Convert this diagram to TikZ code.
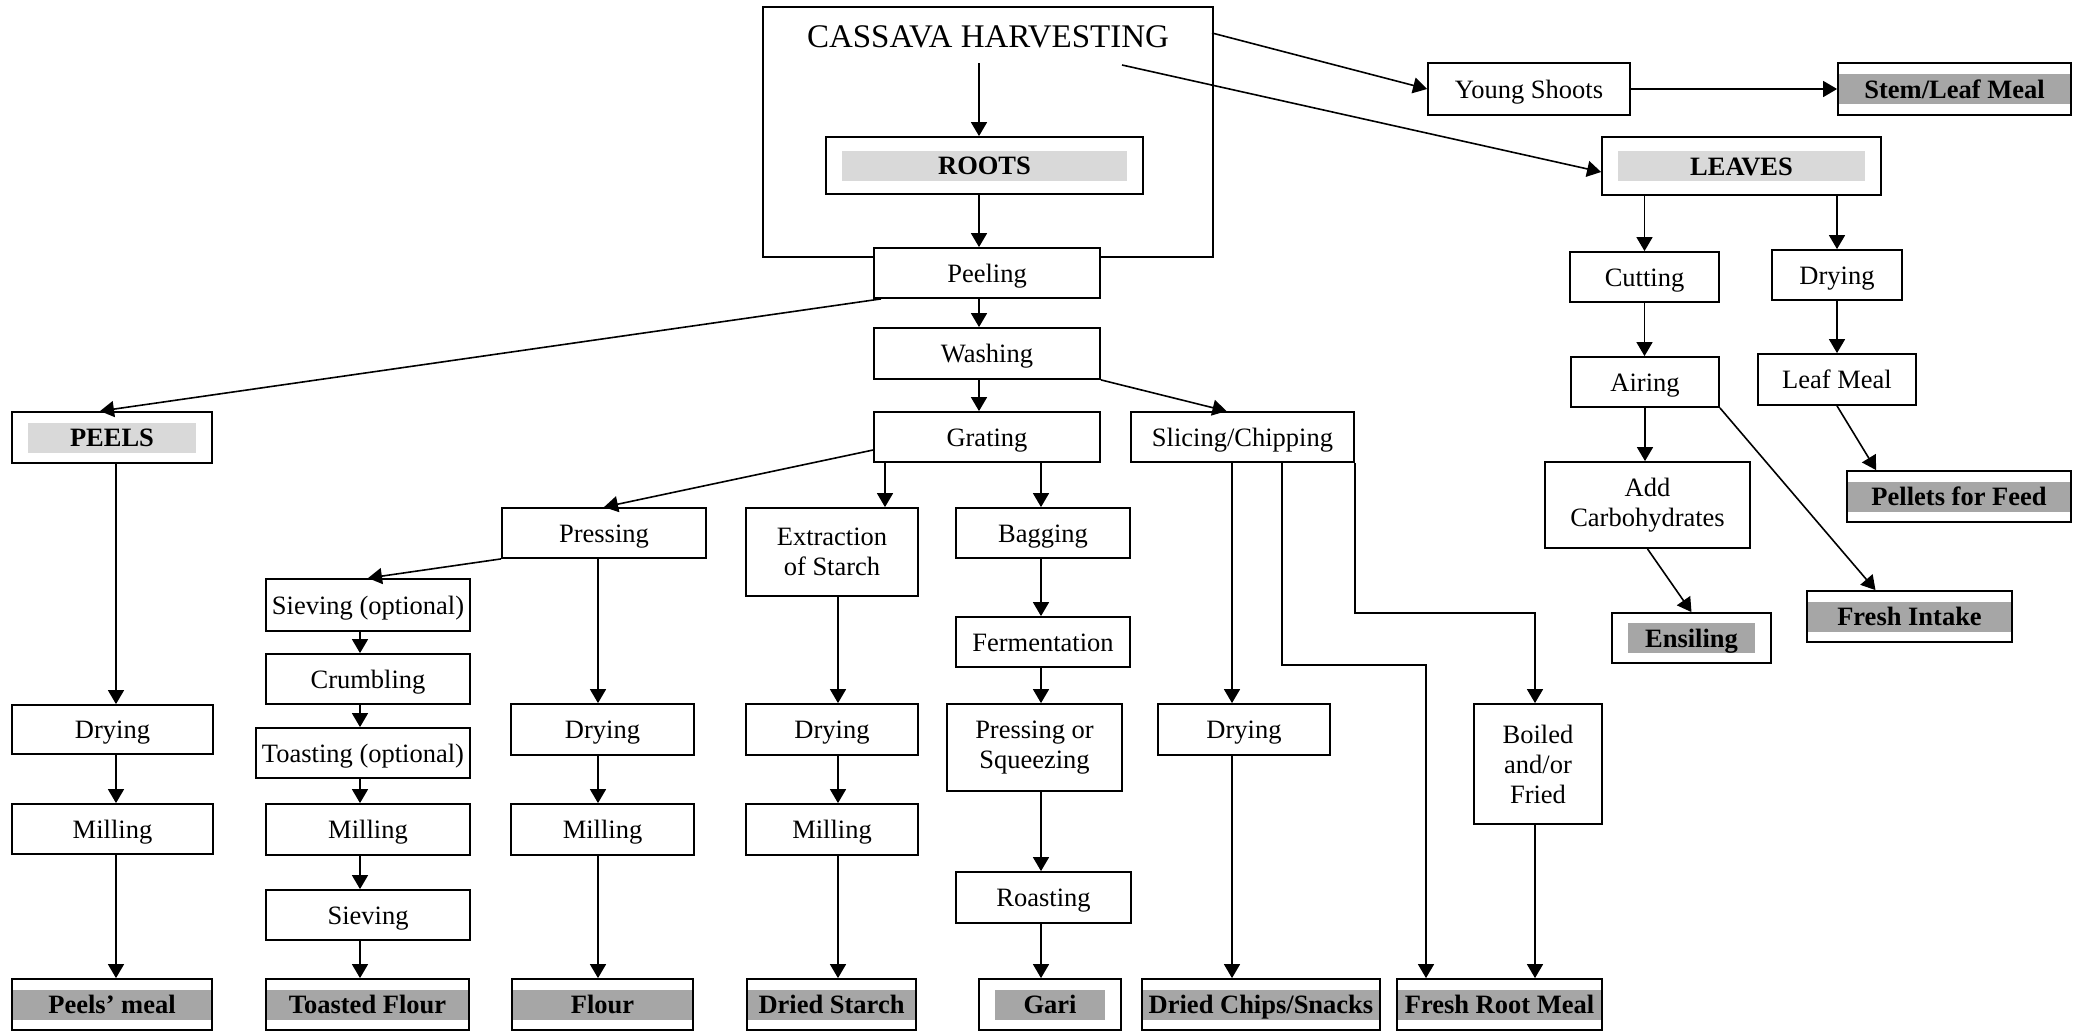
\documentclass[tikz,border=0pt]{standalone}
\usepackage{fontspec}
\setmainfont{Liberation Serif}
\usetikzlibrary{calc,arrows.meta}

\definecolor{lightband}{HTML}{D9D9D9}
\definecolor{darkband}{HTML}{A6A6A6}

\tikzset{
    plainbox/.style={draw, line width=1.8pt, fill=white, align=center, inner sep=2pt,
        font=\fontsize{26.5}{30}\selectfont},
    stepbox/.style={plainbox, text height=18pt, text depth=0pt},
    wh/.style 2 args={minimum width=#1pt, minimum height=#2pt},
    band/.style 2 args={path picture={\fill[#1]
        ([xshift=#2pt,yshift=-15pt]path picture bounding box.west) rectangle
        ([xshift=-#2pt,yshift=15pt]path picture bounding box.east);}},
    headbox/.style={stepbox, band={lightband}{16},
        font=\fontsize{26.5}{30}\selectfont\bfseries},
    endbox/.style={stepbox, band={darkband}{#1},
        font=\fontsize{26.5}{30}\selectfont\bfseries},
    endbox/.default=0,
    arr/.style={-{Triangle[length=14pt,width=16pt]}, line width=1.6pt}
}

\begin{document}
\begin{tikzpicture}[x=1pt,y=-1pt]
    \useasboundingbox (0,0) rectangle (2085,1031);

    \coordinate (spine) at (979,0);
    \coordinate (pcol) at (116,0);
    \coordinate (tcol) at (360,0);
    \coordinate (fcol) at (598,0);
    \coordinate (scol) at (838,0);
    \coordinate (xcol) at (885,0);
    \coordinate (gcol) at (1041,0);
    \coordinate (ccol) at (1232,0);
    \coordinate (rcol) at (1282,0);
    \coordinate (bend1) at (1426,665);
    \coordinate (bend2) at (1535,613);
    \coordinate (hshoot) at (1212,33);
    \coordinate (hleaf) at (1122,65);

    % harvest and the main line
    \node[plainbox, wh={450}{250}] (harvest) at (988,132) {};
    \node[font=\fontsize{33}{36}\selectfont, inner sep=0pt] (title) at (988,37) {CASSAVA HARVESTING};
    \node[headbox, wh={317}{57}] (roots) at (984.5,165.5) {ROOTS};
    \node[stepbox, wh={226}{50}] (peeling) at (987,273) {Peeling};
    \node[stepbox, wh={226}{51}] (washing) at (987,353.5) {Washing};
    \node[stepbox, wh={226}{50}] (grating) at (987,437) {Grating};
    \node[stepbox, wh={223}{50}] (slicing) at (1242.5,437) {Slicing/Chipping};
    \node[headbox, wh={200}{51}] (peels) at (112,437.5) {PEELS};

    \node[stepbox, wh={204}{50}] (pressing) at (604,533) {Pressing};
    \node[plainbox, wh={172}{88}] (extraction) at (832,552) {Extraction\\of Starch};
    \node[stepbox, wh={174}{50}] (bagging) at (1043,533) {Bagging};
    \node[stepbox, wh={174}{50}] (ferment) at (1043,642) {Fermentation};
    \node[plainbox, wh={175}{87}] (squeeze) at (1034.5,747.5) {Pressing or\\Squeezing};
    \node[stepbox, wh={175}{51}] (roasting) at (1043.5,897.5) {Roasting};

    \node[stepbox, wh={204}{52}] (sieveopt) at (368,605) {Sieving (optional)};
    \node[stepbox, wh={204}{50}] (crumbling) at (368,679) {Crumbling};
    \node[stepbox, wh={214}{50}] (toastopt) at (363,753) {Toasting (optional)};
    \node[stepbox, wh={204}{51}] (milltoast) at (368,829.5) {Milling};
    \node[stepbox, wh={204}{50}] (sieving) at (368,915) {Sieving};

    \node[stepbox, wh={201}{49}] (drypeel) at (112.5,729.5) {Drying};
    \node[stepbox, wh={201}{50}] (millpeel) at (112.5,829) {Milling};
    \node[stepbox, wh={183}{51}] (dryflour) at (602.5,729.5) {Drying};
    \node[stepbox, wh={183}{51}] (millflour) at (602.5,829.5) {Milling};
    \node[stepbox, wh={172}{51}] (drystarch) at (832,729.5) {Drying};
    \node[stepbox, wh={172}{51}] (millstarch) at (832,829.5) {Milling};
    \node[stepbox, wh={172}{51}] (drychips) at (1244,729.5) {Drying};
    \node[plainbox, wh={128}{120}] (boiled) at (1538,764) {Boiled\\and/or\\Fried};

    % products
    \node[endbox, wh={200}{51}] (peelmeal) at (112,1004.5) {Peels' meal};
    \node[endbox, wh={203}{51}] (toasted) at (367.5,1004.5) {Toasted Flour};
    \node[endbox, wh={181}{51}] (flour) at (602.5,1004.5) {Flour};
    \node[endbox, wh={169}{51}] (starch) at (831.5,1004.5) {Dried Starch};
    \node[endbox=16, wh={142}{51}] (gari) at (1050,1004.5) {Gari};
    \node[endbox, wh={238}{51}] (chips) at (1261,1004.5) {Dried Chips/Snacks};
    \node[endbox, wh={205}{51}] (rootmeal) at (1499.5,1004.5) {Fresh Root Meal};

    % leaves side
    \node[stepbox, wh={202}{52}] (shoots) at (1529,89) {Young Shoots};
    \node[endbox, wh={233}{52}] (stemmeal) at (1954.5,89) {Stem/Leaf Meal};
    \node[headbox, wh={279}{58}] (leaves) at (1741.5,166) {LEAVES};
    \node[stepbox, wh={149}{50}] (cutting) at (1644.5,277) {Cutting};
    \node[stepbox, wh={130}{50}] (dryleaf) at (1837,275) {Drying};
    \node[stepbox, wh={148}{50}] (airing) at (1645,382) {Airing};
    \node[stepbox, wh={158}{51}] (leafmeal) at (1837,379.5) {Leaf Meal};
    \node[plainbox, wh={205}{86}] (addcarb) at (1647.5,505) {Add\\Carbohydrates};
    \node[endbox, wh={224}{51}] (pellets) at (1959,496.5) {Pellets for Feed};
    \node[endbox=16, wh={159}{50}] (ensiling) at (1691.5,638) {Ensiling};
    \node[endbox, wh={205}{51}] (freshin) at (1909.5,616.5) {Fresh Intake};

    \draw [arr] ($(title.south -| spine)+(0,15)$) -- (roots.north -| spine);
    \draw [arr] (roots.south -| spine) -- (peeling.north -| spine);
    \draw [arr] (peeling.south -| spine) -- (washing.north -| spine);
    \draw [arr] (washing.south -| spine) -- (grating.north -| spine);
    \draw [arr] (hshoot) -- (shoots.west);
    \draw [arr] (hleaf) -- ($(leaves.west)+(0,6)$);
    \draw [arr] (shoots.east) -- (stemmeal.west);

    \draw [arr] ($(peeling.south west)+(8,0)$) -- ($(peels.north)+(-12,0)$);
    \draw [arr] (washing.south east) -- ($(slicing.north)+(-16,0)$);
    \draw [arr] ($(grating.west)+(0,13)$) -- (pressing.north);
    \draw [arr] (grating.south -| xcol) -- (extraction.north -| xcol);
    \draw [arr] (grating.south -| gcol) -- (bagging.north -| gcol);

    \draw [arr] (peels.south -| pcol) -- (drypeel.north -| pcol);
    \draw [arr] (drypeel.south -| pcol) -- (millpeel.north -| pcol);
    \draw [arr] (millpeel.south -| pcol) -- (peelmeal.north -| pcol);

    \draw [arr] (pressing.south west) -- (sieveopt.north);
    \draw [arr] (sieveopt.south -| tcol) -- (crumbling.north -| tcol);
    \draw [arr] (crumbling.south -| tcol) -- (toastopt.north -| tcol);
    \draw [arr] (toastopt.south -| tcol) -- (milltoast.north -| tcol);
    \draw [arr] (milltoast.south -| tcol) -- (sieving.north -| tcol);
    \draw [arr] (sieving.south -| tcol) -- (toasted.north -| tcol);

    \draw [arr] (pressing.south -| fcol) -- (dryflour.north -| fcol);
    \draw [arr] (dryflour.south -| fcol) -- (millflour.north -| fcol);
    \draw [arr] (millflour.south -| fcol) -- (flour.north -| fcol);

    \draw [arr] (extraction.south -| scol) -- (drystarch.north -| scol);
    \draw [arr] (drystarch.south -| scol) -- (millstarch.north -| scol);
    \draw [arr] (millstarch.south -| scol) -- (starch.north -| scol);

    \draw [arr] (bagging.south -| gcol) -- (ferment.north -| gcol);
    \draw [arr] (ferment.south -| gcol) -- (squeeze.north -| gcol);
    \draw [arr] (squeeze.south -| gcol) -- (roasting.north -| gcol);
    \draw [arr] (roasting.south -| gcol) -- (gari.north -| gcol);

    \draw [arr] (slicing.south -| ccol) -- (drychips.north -| ccol);
    \draw [arr] (drychips.south -| ccol) -- (chips.north -| ccol);
    \draw [arr] (slicing.south -| rcol) |- (bend1) -- (bend1 |- rootmeal.north);
    \draw [arr] (slicing.south east) |- (bend2) -- (bend2 |- boiled.north);
    \draw [arr] (boiled.south -| bend2) -- (rootmeal.north -| bend2);

    \draw [arr] (leaves.south -| cutting.north) -- (cutting.north);
    \draw [arr] (leaves.south -| dryleaf.north) -- (dryleaf.north);
    \draw [arr] (cutting.south) -- (cutting.south |- airing.north);
    \draw [arr] (dryleaf.south) -- (leafmeal.north);
    \draw [arr] (airing.south) -- (airing.south |- addcarb.north);
    \draw [arr] (airing.south east) -- ($(freshin.north)+(-34,0)$);
    \draw [arr] (leafmeal.south) -- ($(pellets.north west)+(30,0)$);
    \draw [arr] (addcarb.south) -- (ensiling.north);
\end{tikzpicture}
\end{document}
